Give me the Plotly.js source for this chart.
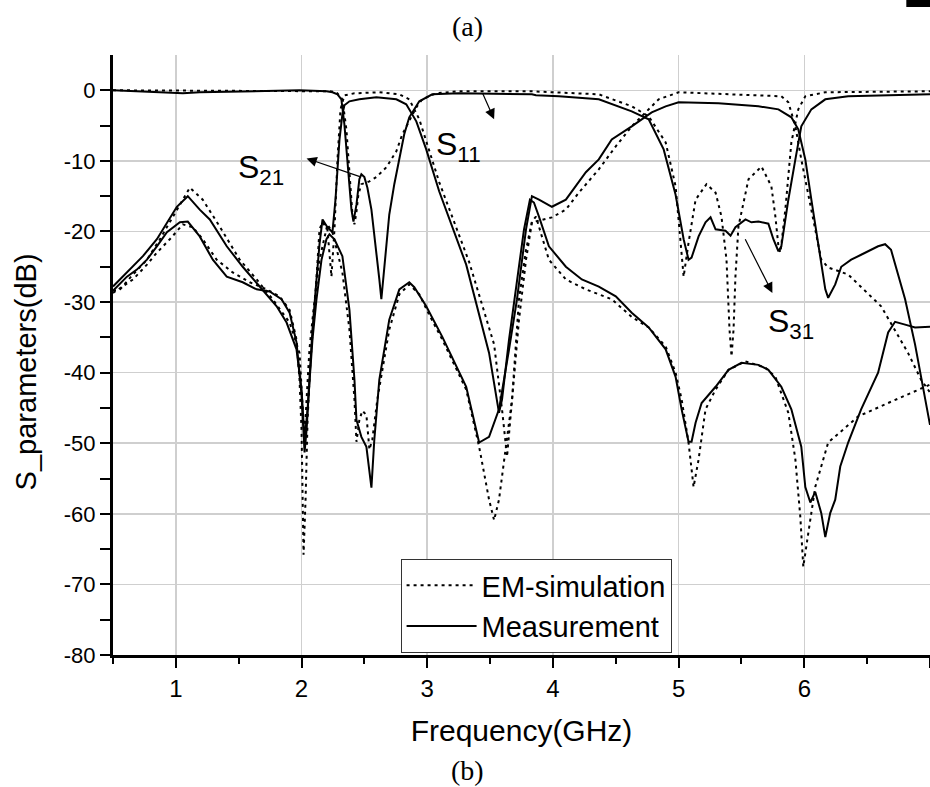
<!DOCTYPE html>
<html>
<head>
<meta charset="utf-8">
<script src="https://cdn.plot.ly/plotly-3.0.1.min.js"></script>
<style>html,body{margin:0;padding:0;background:#fff;}#chart{width:930px;height:787px;}</style>
</head>
<body>
<div id="chart"></div>
<script>
// ---- Data (frequency in GHz, S-parameters in dB) ----
const s11SimF = [0.5,2.222,2.278,2.325,2.357,2.381,2.405,2.421,2.437,2.452,2.476,2.540,2.595,2.675,2.754,2.802,2.857,2.913,2.960,3.071,3.254,3.833,4.365,4.627,4.762,4.897,4.976,5.024,5.040,5.079,5.135,5.222,5.294,5.341,5.381,5.405,5.421,5.437,5.452,5.476,5.556,5.659,5.738,5.770,5.794,5.810,5.849,5.897,5.952,6.008,6.167,7.0];
const s11SimDb = [0,-0.14,-0.28,-1.28,-5.53,-11.2,-17.6,-19.0,-17.2,-14.8,-13.3,-12.9,-12.3,-10.9,-8.65,-6.24,-4.40,-2.41,-1.28,-0.43,-0.14,-0.14,-0.57,-2.27,-3.69,-7.38,-13.6,-24.0,-26.4,-21.6,-15.5,-13.3,-14.5,-17.9,-24.0,-33.9,-37.7,-33.9,-26.4,-19.3,-12.6,-10.8,-13.6,-17.9,-22.1,-23.0,-16.9,-7.38,-2.70,-0.85,-0.28,-0.14];

const s11MeasF = [0.5,0.659,0.873,1.056,1.190,1.587,1.984,2.198,2.246,2.286,2.317,2.341,2.365,2.381,2.397,2.413,2.437,2.460,2.476,2.500,2.524,2.556,2.595,2.619,2.635,2.659,2.698,2.738,2.778,2.817,2.857,2.937,3.040,3.254,3.833,3.865,4.048,4.365,4.627,4.762,4.881,4.976,5.040,5.079,5.103,5.159,5.214,5.254,5.294,5.373,5.413,5.452,5.532,5.579,5.635,5.714,5.754,5.794,5.817,5.873,5.929,5.976,6.056,6.167,6.349,7.0];
const s11MeasDb = [0,-0.14,-0.28,-0.43,-0.28,-0.14,0,-0.14,-0.28,-0.57,-1.28,-4.82,-9.79,-14.0,-16.9,-18.6,-16.2,-12.6,-11.9,-12.3,-13.8,-16.9,-22.6,-26.8,-29.6,-24.7,-17.6,-13.3,-9.5,-6.24,-3.83,-1.56,-0.57,-0.43,-0.57,-0.71,-0.85,-1.28,-2.98,-4.11,-8.37,-14.8,-21.1,-24.0,-23.7,-20.7,-18.7,-18.0,-19.7,-19.9,-20.6,-19.4,-18.3,-18.7,-18.6,-18.9,-21.1,-22.8,-22.1,-15.5,-9.79,-5.11,-2.70,-1.28,-0.85,-0.57];

const s21SimF = [0.5,0.659,0.770,0.849,0.952,1.056,1.135,1.214,1.325,1.452,1.587,1.722,1.825,1.905,1.960,1.984,2.000,2.008,2.016,2.032,2.048,2.071,2.103,2.143,2.167,2.206,2.238,2.262,2.286,2.310,2.341,2.421,2.619,2.778,2.857,2.937,3.095,3.333,3.532,3.595,3.635,3.675,3.730,3.786,3.833,3.865,3.968,4.103,4.262,4.365,4.468,4.627,4.762,4.897,4.976,5.024,5.079,5.119,5.159,5.214,5.294,5.397,5.532,5.690,5.770,5.873,5.929,5.968,5.992,6.032,6.087,6.190,6.429,6.667,7.0];
const s21SimDb = [-28.7,-26.8,-24.7,-23.0,-21.1,-19.0,-19.4,-21.1,-24.0,-25.8,-27.2,-28.2,-29.2,-31.1,-35.3,-41.0,-48.1,-60.9,-65.8,-58.0,-46.7,-38.2,-31.1,-19.7,-18.7,-19.7,-26.4,-19.7,-9.79,-2.70,-0.71,-0.43,-0.28,-0.57,-1.28,-4.11,-13.0,-24.3,-36.0,-45.2,-51.9,-43.8,-29.6,-22.6,-18.6,-17.9,-24.0,-26.8,-28.2,-28.9,-29.6,-32.1,-33.6,-36.3,-40.0,-43.8,-49.9,-56.2,-52.3,-45.2,-42.4,-39.6,-38.4,-39.3,-40.6,-45.7,-52.3,-60.4,-67.5,-62.7,-56.2,-49.9,-46.2,-44.3,-41.7];

const s21MeasF = [0.5,0.611,0.690,0.770,0.849,0.929,1.032,1.095,1.190,1.294,1.405,1.532,1.643,1.746,1.841,1.905,1.960,2.000,2.024,2.040,2.063,2.087,2.119,2.143,2.167,2.206,2.246,2.270,2.286,2.302,2.325,2.341,2.381,2.460,2.595,2.754,2.833,2.913,2.992,3.095,3.310,3.492,3.571,3.595,3.651,3.714,3.770,3.817,3.849,3.889,3.968,4.103,4.230,4.365,4.500,4.627,4.762,4.897,4.976,5.024,5.079,5.103,5.135,5.183,5.294,5.397,5.500,5.635,5.714,5.817,5.897,5.976,6.008,6.048,6.087,6.135,6.167,6.206,6.246,6.286,6.349,6.452,6.587,6.667,6.722,6.802,6.881,7.0];
const s21MeasDb = [-28.4,-26.4,-25.4,-24.0,-22.1,-20.1,-18.7,-18.6,-20.7,-24.0,-26.4,-27.2,-28.2,-28.5,-29.6,-31.5,-35.7,-43.1,-51.3,-48.1,-41.0,-33.9,-26.8,-21.8,-18.3,-19.4,-20.1,-15.5,-11.2,-6.95,-3.40,-2.13,-1.56,-1.28,-0.99,-1.28,-1.99,-4.40,-8.37,-14.3,-24.7,-37.2,-45.7,-43.8,-35.3,-26.8,-19.7,-15.5,-15.9,-17.9,-22.1,-25.0,-26.8,-27.8,-29.2,-31.5,-33.6,-36.7,-40.6,-45.2,-49.8,-49.8,-47.1,-44.3,-42.0,-39.6,-38.6,-38.9,-39.6,-42.0,-45.2,-50.5,-56.2,-58.4,-56.9,-59.9,-63.3,-59.9,-58.0,-53.3,-49.9,-45.2,-40.0,-34.3,-32.8,-33.2,-33.6,-33.5];

const s31SimF = [0.5,0.556,0.659,0.770,0.873,0.976,1.056,1.111,1.214,1.349,1.508,1.643,1.770,1.905,1.984,2.008,2.024,2.040,2.063,2.095,2.143,2.206,2.246,2.325,2.381,2.421,2.437,2.460,2.484,2.516,2.540,2.563,2.603,2.698,2.778,2.857,2.937,3.016,3.119,3.310,3.413,3.492,3.532,3.571,3.627,3.675,3.730,3.786,3.833,3.992,4.103,4.206,4.365,4.500,4.627,4.762,4.841,5.000,5.817,5.873,5.929,5.976,6.056,6.135,6.190,6.349,6.611,6.825,6.929,7.0];
const s31SimDb = [-28.4,-28.2,-26.1,-24.0,-21.1,-18.0,-15.5,-13.8,-15.5,-19.3,-24.0,-26.8,-29.6,-32.9,-37.2,-43.8,-49.5,-43.8,-36.7,-31.1,-24.0,-19.0,-20.1,-25.8,-33.9,-43.8,-49.8,-46.7,-45.4,-46.0,-50.9,-49.5,-43.8,-33.9,-28.9,-27.5,-28.9,-31.8,-35.3,-42.4,-50.5,-58.0,-60.9,-58.0,-50.5,-43.8,-32.5,-24.0,-18.7,-18.0,-16.9,-14.5,-11.2,-7.94,-5.11,-2.70,-1.28,-0.28,-0.85,-1.70,-5.11,-9.79,-16.9,-24.0,-25.1,-26.1,-30.6,-37.2,-41.0,-42.8];

const s31MeasF = [0.5,0.556,0.611,0.659,0.738,0.849,0.929,1.008,1.095,1.190,1.270,1.405,1.532,1.667,1.802,1.881,1.960,2.000,2.024,2.048,2.087,2.119,2.159,2.198,2.222,2.262,2.325,2.381,2.421,2.437,2.476,2.516,2.556,2.579,2.619,2.698,2.778,2.857,2.897,2.992,3.119,3.310,3.413,3.492,3.571,3.651,3.714,3.786,3.833,3.889,3.992,4.103,4.262,4.365,4.468,4.627,4.786,4.897,5.000,5.317,5.635,5.794,5.897,5.952,6.008,6.056,6.111,6.167,6.190,6.246,6.294,6.373,6.452,6.587,6.643,6.690,6.746,6.802,6.881,7.0];
const s31MeasDb = [-27.8,-26.8,-25.8,-25.0,-23.5,-21.1,-18.7,-16.5,-15.0,-16.9,-18.3,-22.1,-25.0,-27.8,-30.6,-32.9,-36.7,-42.4,-49.5,-45.2,-35.3,-29.6,-24.0,-21.1,-20.4,-21.1,-23.5,-31.1,-41.0,-46.7,-49.1,-50.5,-56.3,-49.5,-41.0,-32.5,-28.2,-27.2,-27.9,-30.6,-34.9,-42.0,-49.9,-49.1,-45.2,-36.7,-29.6,-19.7,-15.0,-15.5,-16.5,-15.5,-11.6,-9.79,-6.95,-5.11,-3.12,-2.27,-1.70,-1.84,-2.27,-2.70,-3.83,-5.53,-9.79,-15.5,-22.1,-28.2,-29.4,-27.5,-25.0,-24.0,-23.3,-22.1,-21.8,-22.6,-26.1,-29.6,-36.0,-47.4];

const xTickVals = [1,2,3,4,5,6,7];
const xTickText = ["1","2","3","4","5","6","7"];
const yTickVals = [-80,-70,-60,-50,-40,-30,-20,-10,0];
const yTickText = ["-80","-70","-60","-50","-40","-30","-20","-10","0"];
const xMinorVals = [0.5,1.5,2.5,3.5,4.5,5.5,6.5];
const yMinorVals = [-75,-65,-55,-45,-35,-25,-15,-5];

const legendNames = ["EM-simulation","Measurement"];

// ---- Styles ----
const FONT = "Liberation Sans, Arial, sans-serif";
const SERIF = "Liberation Serif, Times New Roman, serif";
const dotLine = {color:"#000", width:2, dash:"3px,4px"};
const solidLine = {color:"#000", width:2};

function tr(x, y, line, name, show) {
  return {x:x, y:y, type:"scatter", mode:"lines", line:line, name:name,
          showlegend:show, legendgroup:name, hoverinfo:"skip"};
}

const data = [
  tr(s11SimF, s11SimDb, dotLine, legendNames[0], true),
  tr(s11MeasF, s11MeasDb, solidLine, legendNames[1], true),
  tr(s21SimF, s21SimDb, dotLine, legendNames[0], false),
  tr(s21MeasF, s21MeasDb, solidLine, legendNames[1], false),
  tr(s31SimF, s31SimDb, dotLine, legendNames[0], false),
  tr(s31MeasF, s31MeasDb, solidLine, legendNames[1], false)
];

function arrow(hx, hy, tx, ty) {
  return {x:hx, y:hy, ax:tx, ay:ty, xref:"x", yref:"y", axref:"x", ayref:"y",
          text:"", showarrow:true, arrowhead:2, arrowsize:1.7, arrowwidth:1.2,
          arrowcolor:"#000", standoff:0, startstandoff:0};
}
function label(txt, x, y) {
  return {x:x, y:y, xref:"x", yref:"y", text:txt, showarrow:false,
          xanchor:"left", yanchor:"middle", font:{family:FONT, size:32, color:"#000"}};
}

const layout = {
  width:930, height:787,
  margin:{l:113, r:0, t:55, b:132, pad:0},
  paper_bgcolor:"#fff", plot_bgcolor:"#fff",
  font:{family:FONT, color:"#000"},
  showlegend:true,
  legend:{x:0.352, y:0.16, xanchor:"left", yanchor:"top",
          bgcolor:"#fff", bordercolor:"#333", borderwidth:1,
          font:{family:FONT, size:29, color:"#000"},
          itemwidth:70, tracegroupgap:0},
  xaxis:{range:[0.5,7], tickmode:"array", tickvals:xTickVals, ticktext:xTickText,
         ticks:"outside", ticklen:10, tickwidth:2, tickcolor:"#000",
         showline:true, linewidth:3, linecolor:"#000", mirror:false,
         showgrid:true, gridcolor:"#cfcfcf", gridwidth:1.5, zeroline:false,
         tickfont:{family:FONT, size:24, color:"#000"},
         minor:{tickvals:xMinorVals, ticks:"outside", ticklen:6, tickwidth:2, tickcolor:"#000", showgrid:false},
         title:{text:"Frequency(GHz)", font:{family:FONT, size:30, color:"#000"}, standoff:20}},
  yaxis:{range:[-80,5], tickmode:"array", tickvals:yTickVals, ticktext:yTickText,
         ticks:"outside", ticklen:10, tickwidth:2, tickcolor:"#000",
         showline:true, linewidth:3, linecolor:"#000", mirror:false,
         showgrid:true, gridcolor:"#cfcfcf", gridwidth:1.5, zeroline:false,
         tickfont:{family:FONT, size:22, color:"#000"},
         minor:{tickvals:yMinorVals, ticks:"outside", ticklen:10, tickwidth:2, tickcolor:"#000", showgrid:false},
         title:{text:""}},
  annotations:[
    {x:-0.107, y:0.472, xref:"paper", yref:"paper", text:"S_parameters(dB)", textangle:-90,
     showarrow:false, xanchor:"center", yanchor:"middle", font:{family:FONT, size:29, color:"#000"}},
    label("S<sub>21</sub>", 1.48, -11.2),
    label("S<sub>11</sub>", 3.056, -7.9),
    label("S<sub>31</sub>", 5.694, -33.0),
    arrow(2.040, -9.65, 2.476, -12.3),
    arrow(3.532, -4.1, 3.437, -0.28),
    arrow(5.746, -28.7, 5.524, -20.9),
    {x:0.4345, y:1.047, xref:"paper", yref:"paper", text:"(a)", showarrow:false,
     xanchor:"center", yanchor:"middle", font:{family:SERIF, size:28, color:"#000"}},
    {x:0.4345, y:-0.192, xref:"paper", yref:"paper", text:"(b)", showarrow:false,
     xanchor:"center", yanchor:"middle", font:{family:SERIF, size:28, color:"#000"}}
  ],
  shapes:[
    {type:"rect", xref:"paper", yref:"paper", x0:0.971, x1:1.0, y0:1.080, y1:1.092,
     fillcolor:"#000", line:{width:0}}
  ]
};

Plotly.newPlot("chart", data, layout, {staticPlot:true, displayModeBar:false});
</script>
</body>
</html>
